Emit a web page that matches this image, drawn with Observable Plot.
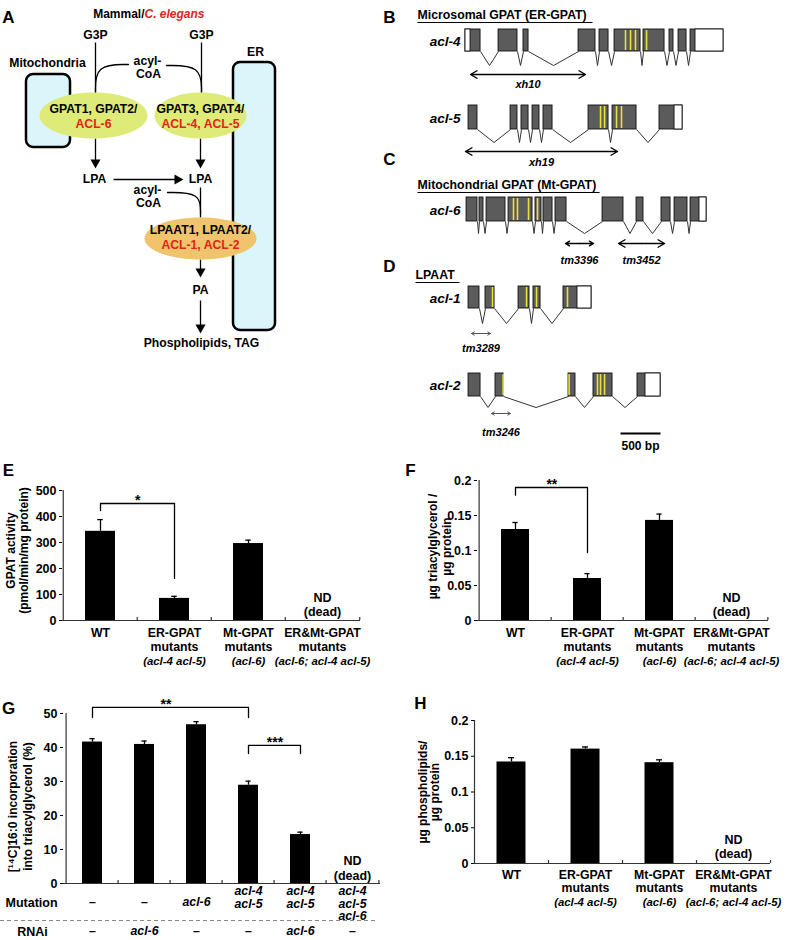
<!DOCTYPE html>
<html><head><meta charset="utf-8">
<script src="https://cdn.jsdelivr.net/npm/d3@7"></script>
<script src="https://cdn.jsdelivr.net/npm/@observablehq/plot@0.6"></script>
<style>
body{margin:0;background:#fff;}
#fig{position:relative;width:793px;height:940px;overflow:hidden;background:#fff;}
.panel{position:absolute;}
.panel svg{overflow:visible;}
</style></head><body><div id="fig"></div>
<script>
// ---------------- DATA ----------------
// Bar charts E, F, H
const groupCats = ["WT", "ER-GPAT", "Mt-GPAT", "ER&Mt-GPAT"];
const groupLine2 = ["", "mutants", "mutants", "mutants"];
const groupGenotype = ["", "(acl-4 acl-5)", "(acl-6)", "(acl-6; acl-4 acl-5)"];
const gpatActivity = [343, 85, 296, null];
const gpatActivityErr = [45, 8, 13, null];
const tagLevel = [0.130, 0.060, 0.143, null];
const tagLevelErr = [0.010, 0.007, 0.009, null];
const plLevel = [0.142, 0.160, 0.141, null];
const plLevelErr = [0.006, 0.003, 0.004, null];
// Bar chart G
const gCats = ["g1", "g2", "g3", "g4", "g5", "g6"];
const gMutation = ["–", "–", "acl-6", "acl-4\nacl-5", "acl-4\nacl-5", "acl-4\nacl-5\nacl-6"];
const gRNAi = ["–", "acl-6", "–", "–", "acl-6", "–"];
const incorporation = [41.6, 40.9, 46.7, 28.9, 14.4, null];
const incorporationErr = [1.0, 1.0, 0.9, 1.2, 0.7, null];
// tick values
const ticksE = [0, 100, 200, 300, 400, 500];
const ticksFH = [0, 0.05, 0.1, 0.15, 0.2];
const ticksG = [0, 10, 20, 30, 40, 50];
// significance brackets (category, value)
const bracketE = [["WT", 423], ["WT", 450], ["ER-GPAT", 450], ["ER-GPAT", 162]];
const bracketF = [["WT", 0.179], ["WT", 0.19], ["ER-GPAT", 0.19], ["ER-GPAT", 0.097]];
const bracketG1 = [["g1", 48.8], ["g1", 51.8], ["g4", 51.8], ["g4", 48.8]];
const bracketG2 = [["g4", 38.2], ["g4", 40.6], ["g5", 40.6], ["g5", 38.2]];

// Gene structures (bp from start of drawn region); exons, UTRs, acyltransferase motifs
const acl4Exons = [[0,188],[413,650],[725,788],[1413,1625],[1675,1788],[1863,2188],[2225,2488],[2550,2600],[2663,2763],[2813,3225]];
const acl4Utr = [[0,63],[2875,3225]];
const acl4Motifs = [2000,2063,2125,2263];
const acl5Exons = [[38,150],[563,650],[700,788],[838,925],[975,1088],[1538,1788],[1838,2138],[2425,2713]];
const acl5Utr = [[2613,2713]];
const acl5Motifs = [1688,1738,1888,1950];
const acl6Exons = [[13,150],[175,225],[263,500],[538,838],[875,950],[975,1088],[1125,1263],[1713,1975],[2138,2225],[2450,2563],[2613,2775],[2813,3013]];
const acl6Utr = [[2925,3013]];
const acl6Motifs = [600,650,788,900];
const acl1Exons = [[38,175],[250,363],[663,800],[850,938],[1225,1575]];
const acl1Utr = [[1400,1575]];
const acl1Motifs = [338,763,888,1275];
const acl2Exons = [[38,188],[375,475],[1288,1375],[1600,1838],[2150,2438]];
const acl2Utr = [[2250,2438]];
const acl2Motifs = [470,1295,1650,1688,1738];
const deletions = [
  {allele: "xh10", gene: "acl-4", from: 63, to: 1500},
  {allele: "xh19", gene: "acl-5", from: 0, to: 1900},
  {allele: "tm3396", gene: "acl-6", from: 1250, to: 1600},
  {allele: "tm3452", gene: "acl-6", from: 1913, to: 2488},
  {allele: "tm3289", gene: "acl-1", from: 75, to: 313},
  {allele: "tm3246", gene: "acl-2", from: 325, to: 563}
];
const scaleBarBp = 500;

// ---------------- LAYOUT / STYLE ----------------
const FONT = '"Liberation Sans", Arial, Helvetica, sans-serif';
const RED = "#e2231a";
const baseStyle = {fontFamily: FONT, fontSize: "12px", fontWeight: "bold", background: "transparent", overflow: "visible", maxWidth: "none"};

function place(node, left, top, w, h) {
  const d = document.createElement("div");
  d.className = "panel";
  Object.assign(d.style, {left: left + "px", top: top + "px", width: w + "px", height: h + "px"});
  d.appendChild(node);
  document.getElementById("fig").appendChild(d);
}
function ellipseSymbol(rx, ry) {
  return {draw(ctx) {
    const k = 0.5523, ox = rx * k, oy = ry * k;
    ctx.moveTo(-rx, 0);
    ctx.bezierCurveTo(-rx, -oy, -ox, -ry, 0, -ry);
    ctx.bezierCurveTo(ox, -ry, rx, -oy, rx, 0);
    ctx.bezierCurveTo(rx, oy, ox, ry, 0, ry);
    ctx.bezierCurveTo(-ox, ry, -rx, oy, -rx, 0);
    ctx.closePath();
  }};
}
const headDown = {draw(ctx) { ctx.moveTo(0, 0); ctx.lineTo(-5, -9); ctx.lineTo(5, -9); ctx.closePath(); }};
const headRight = {draw(ctx) { ctx.moveTo(0, 0); ctx.lineTo(-9, -5); ctx.lineTo(-9, 5); ctx.closePath(); }};
const T = (o) => ({fontFamily: FONT, fontWeight: "bold", fontSize: 12, fill: "black", textAnchor: "middle", lineAnchor: "middle", ...o});

// ---------------- PANEL A ----------------
{
  const compartments = [{x1: 26, x2: 70, y1: 74, y2: 147}, {x1: 233, x2: 275, y1: 62, y2: 330}];
  const links = [
    {x1: 95, y1: 42, x2: 95, y2: 92}, {x1: 201, y1: 42, x2: 201, y2: 92},
    {x1: 95, y1: 138, x2: 95, y2: 161}, {x1: 200, y1: 138, x2: 200, y2: 161},
    {x1: 113, y1: 179, x2: 176, y2: 179},
    {x1: 200, y1: 187, x2: 200, y2: 217},
    {x1: 200, y1: 259, x2: 200, y2: 270},
    {x1: 200, y1: 300, x2: 200, y2: 326}
  ];
  const downHeads = [{x: 95, y: 168}, {x: 200, y: 168}, {x: 200, y: 277}, {x: 200, y: 333}];
  const rightHeads = [{x: 183, y: 179}];
  const curves = [
    {k: "a", x: 95, y: 92}, {k: "a", x: 95, y: 64}, {k: "a", x: 128, y: 64},
    {k: "b", x: 166, y: 65}, {k: "b", x: 201, y: 65}, {k: "b", x: 201, y: 92},
    {k: "c", x: 167, y: 192}, {k: "c", x: 200, y: 192}, {k: "c", x: 200, y: 213}
  ];
  const ellipses = [
    {x: 93, y: 115, rx: 54, ry: 23, fill: "#dfeb78"},
    {x: 200, y: 115, rx: 46, ry: 23, fill: "#dfeb78"},
    {x: 200, y: 238, rx: 56, ry: 21, fill: "#efc46c"}
  ];
  const blackText = [
    {x: 95, y: 35, t: "G3P"}, {x: 201, y: 35, t: "G3P"},
    {x: 47, y: 63, t: "Mitochondria"}, {x: 255, y: 52, t: "ER"},
    {x: 147, y: 61, t: "acyl-"}, {x: 148, y: 74, t: "CoA"},
    {x: 93, y: 109, t: "GPAT1, GPAT2/"}, {x: 200, y: 109, t: "GPAT3, GPAT4/"},
    {x: 94, y: 179, t: "LPA"}, {x: 200, y: 179, t: "LPA"},
    {x: 147, y: 190, t: "acyl-"}, {x: 148, y: 203, t: "CoA"},
    {x: 200, y: 230, t: "LPAAT1, LPAAT2/"},
    {x: 200, y: 290, t: "PA"},
    {x: 201, y: 343, t: "Phospholipids, TAG"}
  ];
  const redText = [
    {x: 93, y: 124, t: "ACL-6"}, {x: 200, y: 124, t: "ACL-4, ACL-5"}, {x: 200, y: 245, t: "ACL-1, ACL-2"}
  ];
  const svg = Plot.plot({
    width: 385, height: 352, margin: 0,
    x: {domain: [0, 385], range: [0, 385], axis: null},
    y: {domain: [0, 352], range: [0, 352], axis: null},
    style: baseStyle,
    marks: [
      Plot.rect(compartments, {x1: "x1", x2: "x2", y1: "y1", y2: "y2", rx: 7, fill: "#daf6fb", stroke: "black", strokeWidth: 2.5}),
      Plot.link(links, {x1: "x1", y1: "y1", x2: "x2", y2: "y2", stroke: "black", strokeWidth: 1.3}),
      Plot.line(curves, {x: "x", y: "y", z: "k", curve: "basis", stroke: "black", strokeWidth: 1.3}),
      ...ellipses.map(e => Plot.dot([e], {x: "x", y: "y", r: 5, symbol: ellipseSymbol(e.rx, e.ry), fill: e.fill, stroke: "none"})),
      Plot.dot(downHeads, {x: "x", y: "y", r: 5, symbol: headDown, fill: "black", stroke: "none"}),
      Plot.dot(rightHeads, {x: "x", y: "y", r: 5, symbol: headRight, fill: "black", stroke: "none"}),
      Plot.text(blackText, T({x: "x", y: "y", text: "t", fontSize: 12.2})),
      Plot.text(redText, T({x: "x", y: "y", text: "t", fill: RED, fontSize: 12.2})),
      Plot.text([{x: 144, y: 14}], T({x: "x", y: "y", text: () => "Mammal/", textAnchor: "end"})),
      Plot.text([{x: 144, y: 14}], T({x: "x", y: "y", text: () => "C. elegans", textAnchor: "start", fill: RED, fontStyle: "italic"})),
      Plot.text([{x: 8, y: 17}], T({x: "x", y: "y", text: () => "A", fontSize: 17}))
    ]
  });
  place(svg, 0, 0, 385, 352);
}

// ---------------- PANELS B, C, D ----------------
{
  const bpPerPx = 12.5;
  const px2bp = (px) => (px - 465) * bpPerPx;
  const genes = [
    {name: "acl-4", exons: acl4Exons, utr: acl4Utr, motifs: acl4Motifs},
    {name: "acl-5", exons: acl5Exons, utr: acl5Utr, motifs: acl5Motifs},
    {name: "acl-6", exons: acl6Exons, utr: acl6Utr, motifs: acl6Motifs},
    {name: "acl-1", exons: acl1Exons, utr: acl1Utr, motifs: acl1Motifs},
    {name: "acl-2", exons: acl2Exons, utr: acl2Utr, motifs: acl2Motifs}
  ];
  const rowLayout = {
    "acl-4": {top: 29, bot: 51, depth: 14, arrowY: 74, labelY: 84, thin: false},
    "acl-5": {top: 105, bot: 129, depth: 13, arrowY: 151, labelY: 162, thin: false},
    "acl-6": {top: 197, bot: 221, depth: 12, arrowY: 243, labelY: 260, thin: false},
    "acl-1": {top: 286, bot: 308, depth: 15, arrowY: 333, labelY: 348, thin: true},
    "acl-2": {top: 373, bot: 396, depth: 11, arrowY: 413, labelY: 432, thin: true}
  };
  const exonRects = [], utrRects = [], motifRules = [], introns = [];
  for (const g of genes) {
    const L = rowLayout[g.name];
    g.exons.forEach(([a, b], i) => {
      exonRects.push({x1: a, x2: b, y1: L.top, y2: L.bot});
      if (i < g.exons.length - 1) {
        const next = g.exons[i + 1][0], mid = (b + next) / 2;
        introns.push({x1: b, y1: L.bot, x2: mid, y2: L.bot + L.depth});
        introns.push({x1: mid, y1: L.bot + L.depth, x2: next, y2: L.bot});
      }
    });
    g.utr.forEach(([a, b]) => utrRects.push({x1: a, x2: b, y1: L.top, y2: L.bot}));
    g.motifs.forEach(m => motifRules.push({x: m, y1: L.top + 1, y2: L.bot - 1}));
  }
  const arrows = [], thinArrows = [], alleleLabels = [];
  for (const d of deletions) {
    const L = rowLayout[d.gene], mid = (d.from + d.to) / 2;
    const target = L.thin ? thinArrows : arrows;
    target.push({x1: mid, x2: d.from, y: L.arrowY}, {x1: mid, x2: d.to, y: L.arrowY});
    alleleLabels.push({x: mid, y: L.labelY, t: d.allele});
  }
  const geneLabels = genes.map(g => ({x: px2bp(460), y: (rowLayout[g.name].top + rowLayout[g.name].bot) / 2 + 1, t: g.name}));
  const titles = [
    {x: px2bp(417), y: 15, t: "Microsomal GPAT (ER-GPAT)", end: px2bp(592)},
    {x: px2bp(417), y: 185, t: "Mitochondrial GPAT (Mt-GPAT)", end: px2bp(599)},
    {x: px2bp(415), y: 275, t: "LPAAT", end: px2bp(459)}
  ];
  const letters = [{x: px2bp(389), y: 17, t: "B"}, {x: px2bp(389), y: 159, t: "C"}, {x: px2bp(389), y: 266, t: "D"}];
  const sbStart = px2bp(620);
  const svg = Plot.plot({
    width: 418, height: 460, margin: 0,
    x: {domain: [-90 * bpPerPx, (418 - 90) * bpPerPx], range: [0, 418], axis: null},
    y: {domain: [0, 460], range: [0, 460], axis: null},
    style: baseStyle,
    marks: [
      Plot.link(introns, {x1: "x1", y1: "y1", x2: "x2", y2: "y2", stroke: "#333", strokeWidth: 1}),
      Plot.rect(exonRects, {x1: "x1", x2: "x2", y1: "y1", y2: "y2", fill: "#5b5b5b", stroke: "#111", strokeWidth: 0.9}),
      Plot.rect(utrRects, {x1: "x1", x2: "x2", y1: "y1", y2: "y2", fill: "white", stroke: "#111", strokeWidth: 0.9}),
      Plot.ruleX(motifRules, {x: "x", y1: "y1", y2: "y2", stroke: "#e9e23e", strokeWidth: 1.6}),
      Plot.arrow(arrows, {x1: "x1", x2: "x2", y1: "y", y2: "y", stroke: "black", strokeWidth: 1.4, headLength: 8}),
      Plot.arrow(thinArrows, {x1: "x1", x2: "x2", y1: "y", y2: "y", stroke: "#555", strokeWidth: 1, headLength: 5}),
      Plot.text(alleleLabels, T({x: "x", y: "y", text: "t", fontStyle: "italic", fontSize: 11})),
      Plot.text(geneLabels, T({x: "x", y: "y", text: "t", fontStyle: "italic", fontSize: 13.5, textAnchor: "end"})),
      Plot.text(titles, T({x: "x", y: "y", text: "t", fontSize: 12.3, textAnchor: "start"})),
      Plot.link(titles, {x1: "x", x2: "end", y1: d => d.y + 7, y2: d => d.y + 7, stroke: "black", strokeWidth: 1}),
      Plot.text(letters, T({x: "x", y: "y", text: "t", fontSize: 17})),
      Plot.link([{a: sbStart, b: sbStart + scaleBarBp}], {x1: "a", x2: "b", y1: 433, y2: 433, stroke: "black", strokeWidth: 2}),
      Plot.text([{x: sbStart + scaleBarBp / 2}], T({x: "x", y: 446, text: () => `${scaleBarBp} bp`}))
    ]
  });
  place(svg, 375, 0, 418, 460);
}

// ---------------- BAR PANELS ----------------
function barPanel(o) {
  const n = o.cats.length;
  const bw = (o.width - o.ml - o.mr) / n;
  const ph = o.height - o.mt - o.mb;
  const [y0, y1] = o.yDomain;
  const perPx = (y1 - y0) / ph;
  const rows = o.cats.map((c, i) => ({c, v: o.vals[i], e: o.errs[i]})).filter(d => d.v != null);
  const last = o.cats[n - 1];
  const axisC = "#333";
  const marks = [
    Plot.barY(rows, {x: "c", y: "v", fill: "black", insetLeft: o.inset, insetRight: o.inset}),
    Plot.ruleX(rows, {x: "c", y1: "v", y2: d => d.v + d.e, stroke: "black", strokeWidth: 1.3}),
    Plot.tickY(rows, {x: "c", y: d => d.v + d.e, stroke: "black", strokeWidth: 1.3, insetLeft: bw / 2 - 3, insetRight: bw / 2 - 3}),
    Plot.ruleY([y0], {stroke: axisC, strokeWidth: 1.2}),
    Plot.ruleX([o.cats[0]], {dx: -bw / 2, y1: y0, y2: y1, stroke: axisC, strokeWidth: 1.2}),
    Plot.ruleX(o.cats.slice(1), {dx: -bw / 2, y1: y0, y2: y0 + 3 * perPx, stroke: axisC, strokeWidth: 1.2}),
    Plot.ruleX([last], {dx: bw / 2, y1: y0, y2: y0 + 3 * perPx, stroke: axisC, strokeWidth: 1.2}),
    Plot.axisY({ticks: o.ticks, tickFormat: o.tickFormat, tickSize: 3, tickPadding: 3, label: null, fontSize: 12.5, fontWeight: "bold"}),
    Plot.text([last], T({x: d => d, frameAnchor: "bottom", dy: o.ndDy[0], text: () => "ND", fontSize: 12.5})),
    Plot.text([last], T({x: d => d, frameAnchor: "bottom", dy: o.ndDy[1], text: () => "(dead)", fontSize: 12.5})),
    Plot.text([o.letter], T({frameAnchor: "top-left", dx: o.letterPos[0], dy: o.letterPos[1], text: d => d, fontSize: 17})),
    ...o.yTitle.map((t, j) => Plot.text([t], T({frameAnchor: "left", dx: o.yTitleDx[j], dy: o.yTitleDy, rotate: -90, text: d => d, fontSize: 12}))),
    ...o.brackets.map(b => Plot.line(b.pts, {x: d => d[0], y: d => d[1], stroke: "black", strokeWidth: 1.3})),
    ...o.brackets.map(b => Plot.text([b.at], T({x: d => d, y: b.pts[1][1], dx: bw / 2 + (b.dx || 0), dy: -3, text: () => b.label, fontSize: 14})))
  ];
  if (o.labels) o.labels.forEach((arr, j) => marks.push(
    Plot.text(o.cats, T({x: d => d, frameAnchor: "bottom", dy: o.labelDy[j], text: (d, i) => arr[i], fontSize: j === 2 ? 11.4 : 12.3, fontStyle: j === 2 ? "italic" : "normal"}))));
  if (o.extra) marks.push(...o.extra(bw, perPx));
  return Plot.plot({
    width: o.width, height: o.height,
    marginLeft: o.ml, marginRight: o.mr, marginTop: o.mt, marginBottom: o.mb,
    x: {type: "band", domain: o.cats, padding: 0, axis: null},
    y: {domain: o.yDomain},
    style: baseStyle,
    marks
  });
}
const fmt2 = d => d === 0 ? "0" : String(d);

place(barPanel({
  cats: groupCats, vals: gpatActivity, errs: gpatActivityErr, yDomain: [0, 500], ticks: ticksE, tickFormat: d => String(d),
  width: 385, height: 210, ml: 62, mr: 25, mt: 30, mb: 50, inset: 22,
  letter: "E", letterPos: [-54, -20],
  yTitle: ["GPAT activity", "(pmol/min/mg protein)"], yTitleDx: [-51, -38], yTitleDy: -5,
  ndDy: [-23, -9],
  labels: [groupCats, groupLine2, groupGenotype], labelDy: [13, 27, 41],
  brackets: [{pts: bracketE, label: "*", at: "WT"}]
}), 0, 460, 385, 210);

place(barPanel({
  cats: groupCats, vals: tagLevel, errs: tagLevelErr, yDomain: [0, 0.2], ticks: ticksFH, tickFormat: fmt2,
  width: 393, height: 210, ml: 77, mr: 25, mt: 20, mb: 50, inset: 22,
  letter: "F", letterPos: [-67, -10],
  yTitle: ["µg triacylglycerol /", "µg protein"], yTitleDx: [-44, -30], yTitleDy: -4,
  ndDy: [-23, -9],
  labels: [groupCats, groupLine2, groupGenotype], labelDy: [13, 27, 41],
  brackets: [{pts: bracketF, label: "**", at: "WT"}]
}), 400, 460, 393, 210);

place(barPanel({
  cats: gCats, vals: incorporation, errs: incorporationErr, yDomain: [0, 50], ticks: ticksG, tickFormat: d => String(d),
  width: 400, height: 250, ml: 63, mr: 20, mt: 23, mb: 57, inset: 16,
  letter: "G", letterPos: [-55, -5],
  yTitle: ["[¹⁴C]16:0 incorporation", "into triacylglycerol (%)"], yTitleDx: [-50, -35], yTitleDy: 8,
  ndDy: [-23, -8],
  brackets: [{pts: bracketG1, label: "**", at: "g2", dx: -5}, {pts: bracketG2, label: "***", at: "g4"}],
  extra: (bw, perPx) => [
    Plot.text(gCats, T({x: d => d, frameAnchor: "bottom", dy: 19, text: (d, i) => gMutation[i], fontSize: 12.3, fontStyle: "italic", filter: (d, i) => !gMutation[i].includes("\n")})),
    Plot.text(gCats, T({x: d => d, frameAnchor: "bottom", dy: 3, lineAnchor: "top", lineHeight: 1, text: (d, i) => gMutation[i], fontSize: 12.3, fontStyle: "italic", filter: (d, i) => gMutation[i].includes("\n")})),
    Plot.text(gCats, T({x: d => d, frameAnchor: "bottom", dy: 48, text: (d, i) => gRNAi[i], fontSize: 12.3, fontStyle: "italic"})),
    Plot.text(["Mutation"], T({frameAnchor: "bottom-left", dx: -32, dy: 19, text: d => d, fontSize: 12.5})),
    Plot.text(["RNAi"], T({frameAnchor: "bottom-left", dx: -31, dy: 48, text: d => d, fontSize: 12.5})),
    Plot.ruleY([-37 * perPx], {insetLeft: -63, insetRight: 2, stroke: "#888", strokeWidth: 1.2, strokeDasharray: "4,3"})
  ]
}), 0, 690, 400, 250);

place(barPanel({
  cats: groupCats, vals: plLevel, errs: plLevelErr, yDomain: [0, 0.2], ticks: ticksFH, tickFormat: fmt2,
  width: 393, height: 250, ml: 74, mr: 23, mt: 30, mb: 77, inset: 22.5,
  letter: "H", letterPos: [-54, -17],
  yTitle: ["µg phospholipids/", "µg protein"], yTitleDx: [-51, -39], yTitleDy: 0,
  ndDy: [-24, -10],
  labels: [groupCats, groupLine2, groupGenotype], labelDy: [12, 25, 39],
  brackets: []
}), 400, 690, 393, 250);
</script></body></html>
